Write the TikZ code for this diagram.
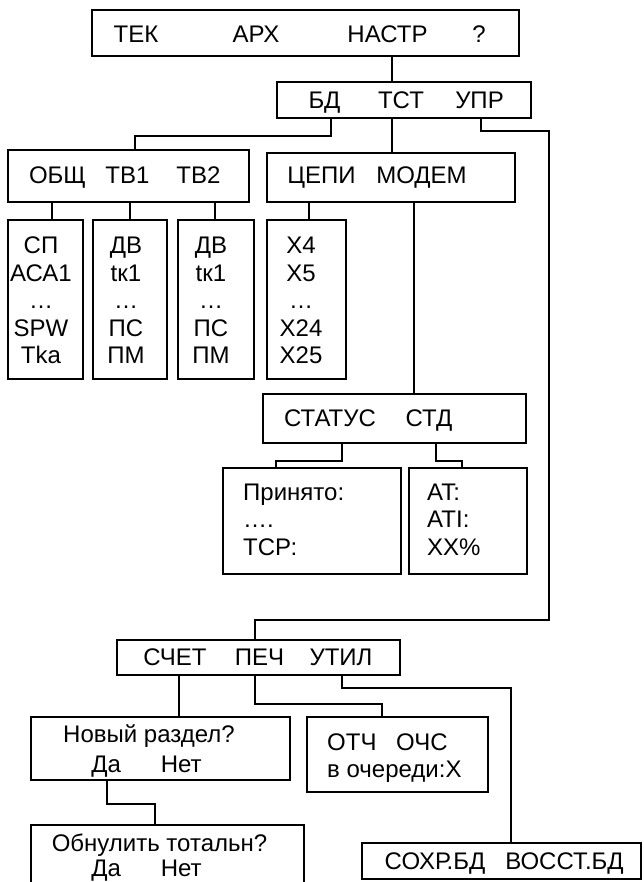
\documentclass[tikz,border=0pt]{standalone}
\usepackage{fontspec}
\setmainfont{Liberation Sans}

\begin{document}
\begin{tikzpicture}[x=1pt,y=-1pt,font=\fontsize{24}{27.5}\selectfont]

  \path[use as bounding box] (0,0) rectangle (644,882);
  \clip (0,0) rectangle (644,882);

  % screens
  \begin{scope}[every node/.style={draw,line width=1.8pt,inner sep=0pt}]
    \node[minimum width=427pt,minimum height=46pt] (top) at (305.5,33) {};
    \node[minimum width=254pt,minimum height=36pt] (nastr) at (404,100) {};
    \node[minimum width=241pt,minimum height=52pt] (obsh) at (128.5,176) {};
    \node[minimum width=248pt,minimum height=49pt] (cepi) at (391,177.5) {};
    \node[minimum width=75pt,minimum height=159pt] (sp) at (45.5,299.5) {};
    \node[minimum width=74pt,minimum height=159pt] (tv1) at (130,299.5) {};
    \node[minimum width=76pt,minimum height=159pt] (tv2) at (216,299.5) {};
    \node[minimum width=79pt,minimum height=159pt] (xs) at (306.5,299.5) {};
    \node[minimum width=263pt,minimum height=49pt] (status) at (394.5,418.5) {};
    \node[minimum width=178pt,minimum height=106pt] (prin) at (312,521) {};
    \node[minimum width=118pt,minimum height=106pt] (ati) at (468,521) {};
    \node[minimum width=283pt,minimum height=35pt] (schet) at (258.5,657.5) {};
    \node[minimum width=259pt,minimum height=63pt] (novyi) at (160.5,748.5) {};
    \node[minimum width=181pt,minimum height=75pt] (otch) at (397.5,754.5) {};
    \node[minimum width=273pt,minimum height=70pt] (obnul) at (167.5,860) {};
    \node[minimum width=279pt,minimum height=36pt] (sohr) at (501.5,861) {};
  \end{scope}

  % menu items
  \begin{scope}[every node/.style={inner sep=0pt,anchor=base}]
    \node (tek) at (136,42.5) {ТЕК};
    \node (arh) at (256,42.5) {АРХ};
    \node (nastrt) at (387.5,42.5) {НАСТР};
    \node (help) at (479,42.5) {?};
    \node (bd) at (324.5,108.5) {БД};
    \node (tst) at (401,108.5) {ТСТ};
    \node (upr) at (479.5,108.5) {УПР};
    \node (obsht) at (57.5,183.5) {ОБЩ};
    \node (tv1t) at (127.5,183.5) {ТВ1};
    \node (tv2t) at (198.5,183.5) {ТВ2};
    \node (cepit) at (321.5,184) {ЦЕПИ};
    \node (modem) at (421.5,184) {МОДЕМ};
    \node[align=center] (spl) at (41,363.5) {СП\\АСА1\\…\\SPW\\Tka};
    \node[align=center] (tv1l) at (126,363.5) {ДВ\\tк1\\…\\ПС\\ПМ};
    \node[align=center] (tv2l) at (211,363.5) {ДВ\\tк1\\…\\ПС\\ПМ};
    \node[align=center] (xsl) at (301,363.5) {X4\\X5\\…\\X24\\X25};
    \node (statust) at (330,426.5) {СТАТУС};
    \node (std) at (429,426.5) {СТД};
    \node[align=left,anchor=base west] (prinl) at (243,555) {Принято:\\….\\ТСР:};
    \node[align=left,anchor=base west] (atil) at (427,555) {AT:\\ATI:\\XX\%};
    \node (schett) at (175,665) {СЧЕТ};
    \node (pech) at (259.5,665) {ПЕЧ};
    \node (util) at (341,665) {УТИЛ};
    \node (novyit) at (149,742) {Новый раздел?};
    \node (novyida) at (146.5,772) {Да\hspace{40pt}Нет};
    \node[align=left,anchor=base west] (otchl) at (327,777.5) {ОТЧ\hspace{13pt} ОЧС\\в очереди:X};
    \node (obnult) at (159.5,851) {Обнулить тотальн?};
    \node (obnulda) at (146.5,876) {Да\hspace{40pt}Нет};
    \node (sohrt) at (435,869.5) {СОХР.БД};
    \node (vosst) at (564.5,869.5) {ВОССТ.БД};
  \end{scope}

  % links
  \begin{scope}[line width=2pt]
    \draw (top.south -| 392,0) -- (nastr.north -| 392,0);
    \draw (nastr.south -| 331,0) -- ++(0,17) -| (obsh.north -| 135,0);
    \draw (nastr.south -| 392,0) -- (cepi.north -| 392,0);
    \draw (nastr.south -| 481,0) -- ++(0,12) -| (549,620) -| (schet.north -| 255,0);
    \draw (obsh.south -| 52,0) -- (sp.north -| 52,0);
    \draw (obsh.south -| 130,0) -- (tv1.north -| 130,0);
    \draw (obsh.south -| 215,0) -- (tv2.north -| 215,0);
    \draw (cepi.south -| 309,0) -- (xs.north -| 309,0);
    \draw (cepi.south -| 414,0) -- (status.north -| 414,0);
    \draw (status.south -| 342,0) -- ++(0,17) -| (prin.north -| 276,0);
    \draw (status.south -| 436,0) -- ++(0,17) -| (ati.north -| 462,0);
    \draw (schet.south -| 179,0) -- (novyi.north -| 179,0);
    \draw (schet.south -| 255,0) -- ++(0,28) -| (otch.north -| 382,0);
    \draw (schet.south -| 342,0) -- ++(0,12) -| (sohr.north -| 511,0);
    \draw (novyi.south -| 107,0) -- ++(0,23) -| (obnul.north -| 155,0);
  \end{scope}

\end{tikzpicture}
\end{document}
